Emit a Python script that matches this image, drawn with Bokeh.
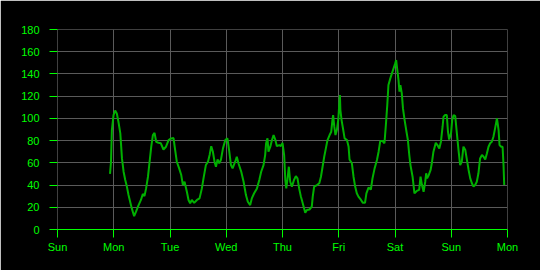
from bokeh.plotting import figure
from bokeh.models import FixedTicker, Range1d
from bokeh.embed import file_html
from bokeh.resources import INLINE

# hours since Sunday 00:00
hours = [22.4, 22.8, 23.2, 23.9, 24.6, 25.3, 26.0, 26.8, 27.5, 28.2, 28.9, 29.6, 30.3, 31.0,
         31.7, 32.7, 33.5, 34.6, 35.6, 36.4, 37.1, 37.8, 38.6, 39.3, 40.0, 40.7, 41.4, 42.1,
         43.1, 44.1, 45.2, 46.3, 47.4, 48.5, 49.5, 50.2, 50.9, 51.9, 52.8, 53.5, 54.2, 55.2,
         55.9, 56.6, 57.3, 58.3, 59.5, 60.6, 61.6, 62.3, 63.3, 64.2, 64.9, 65.6, 66.3, 67.0,
         67.6, 68.3, 69.0, 69.7, 70.6, 71.6, 72.5, 73.3, 74.0, 74.7, 75.8, 76.5, 77.2, 78.4,
         79.4, 80.4, 81.2, 82.2, 82.9, 83.9, 85.1, 86.1, 86.9, 87.9, 88.6, 89.0, 89.6, 90.0,
         90.8, 91.5, 92.2, 92.9, 93.6, 94.6, 95.3, 96.0, 96.7, 97.2, 97.6, 98.1, 98.7, 99.3,
         100.0, 100.9, 101.7, 102.4, 103.1, 103.8, 104.2, 105.0, 105.7, 106.4, 107.5, 108.5,
         108.9, 109.5, 110.7, 111.7, 112.4, 113.1, 113.8, 114.5, 115.2, 116.1, 116.8, 117.3,
         117.6, 118.1, 118.6, 119.2, 119.8, 120.2, 120.5, 120.7, 121.2, 121.8, 122.5, 123.5,
         124.2, 124.6, 125.6, 126.3, 127.0, 127.7, 128.4, 129.5, 130.3, 131.2, 131.8, 132.7,
         133.7, 134.4, 135.3, 136.3, 137.0, 137.7, 138.7, 139.5, 140.1, 140.7, 141.2, 142.0,
         142.7, 143.4, 144.1, 144.5, 144.9, 145.5, 145.9, 146.3, 146.9, 147.4, 148.1, 148.9,
         149.5, 150.1, 150.6, 151.5, 152.3, 153.3, 154.3, 154.9, 155.5, 156.2, 156.9, 157.3,
         157.7, 158.3, 159.2, 159.7, 160.4, 161.4, 162.1, 162.9, 163.6, 164.3, 164.7, 165.4,
         166.1, 166.6, 167.1, 167.9, 168.4, 169.0, 169.7, 170.4, 171.1, 171.8, 172.5, 173.2,
         174.0, 174.7, 175.4, 176.1, 176.8, 177.5, 178.2, 178.9, 179.6, 180.3, 181.1, 181.8,
         182.5, 183.2, 183.9, 184.6, 185.3, 186.0, 186.7, 187.5, 188.2, 188.6, 189.3, 189.9,
         190.3, 190.6]

values = [50, 60, 89.5, 103, 107, 104.5, 97, 86.5, 64, 52, 44.6, 38.6, 31, 25,
          19, 12, 16, 22, 26.6, 32, 30, 37, 47.5, 61, 74.5, 85, 87, 79,
          78, 77.6, 72, 74.5, 80.5, 82, 82.3, 71.5, 61, 55, 49, 40, 43, 34,
          26.6, 23.6, 26.6, 24, 26.6, 28, 37, 46, 58, 61, 67, 75, 70, 61,
          56.5, 63, 59.6, 62.5, 73, 80.5, 82, 70, 58, 55, 61, 65.5, 59.6, 52,
          43, 31, 25, 22, 28, 32.6, 37, 44.6, 52, 58, 67, 77.6, 82, 70,
          74.5, 80.5, 85, 81, 75, 76, 75, 78, 67, 44.6, 37, 44.6, 56.5, 43,
          38.6, 44.6, 48, 46, 37, 30, 27, 20.6, 15, 17.6, 18, 20.6,
          29.6, 38.6, 40, 41.6, 47.5, 56.5, 65.5, 73, 80.5, 85, 88, 98.5,
          103, 92.5, 85, 89.5, 99, 112, 121, 107.5, 98.5, 91, 82, 80.5,
          74.5, 63, 59.6, 47.5, 38.6, 32.6, 29.6, 26.6, 24, 24, 32.6, 37.7,
          36, 46, 55, 62.5, 70, 79.6, 79.6, 77.6, 94, 112, 130, 136,
          140.5, 145, 149.5, 152.5, 145, 134.5, 124, 130, 122.5, 109, 98.5, 88,
          80.5, 67, 58, 47.5, 32.6, 34.7, 35.6, 47.5, 40, 34, 43, 50.6,
          46, 48.5, 53.6, 59.6, 70, 78, 76, 73, 79, 92.5, 101.5, 103,
          103, 88, 81, 86.5, 98.5, 103, 102, 86.5, 71.5, 58, 61, 74.5,
          71.5, 62.5, 53.6, 46, 41.6, 38.6, 40, 43, 50.6, 64, 67, 65.5,
          63, 68.5, 74.5, 77.6, 79, 83.5, 91, 100, 89.5, 76, 74.5, 74.5,
          58, 40]

day_ticks = [0, 24, 48, 72, 96, 120, 144, 168, 192]
day_labels = ["Sun", "Mon", "Tue", "Wed", "Thu", "Fri", "Sat", "Sun", "Mon"]
y_ticks = [0, 20, 40, 60, 80, 100, 120, 140, 160, 180]

GREEN = "#00ff00"
LINE = "#00b000"
GRID = "#5a5a5a"

p = figure(width=540, height=270, output_backend="svg", toolbar_location=None,
           x_range=Range1d(0, 192), y_range=Range1d(0, 180),
           min_border_left=57, min_border_right=33, min_border_top=29, min_border_bottom=41)
p.background_fill_color = "black"
p.border_fill_color = "black"
p.outline_line_color = None

p.line(hours, values, line_color=LINE, line_width=2)

p.xaxis.ticker = FixedTicker(ticks=day_ticks)
p.xaxis.major_label_overrides = {t: l for t, l in zip(day_ticks, day_labels)}
p.yaxis.ticker = FixedTicker(ticks=y_ticks)

for ax in (p.xaxis[0], p.yaxis[0]):
    ax.major_label_text_color = GREEN
    ax.major_label_text_font = "Liberation Sans"
    ax.major_label_text_font_size = "11px"
    ax.major_tick_line_color = GREEN
    ax.major_tick_out = 8
    ax.major_tick_in = 0
    ax.minor_tick_line_color = None
    ax.axis_line_color = GREEN

p.yaxis.axis_line_color = None
p.yaxis.major_label_standoff = 10
p.xaxis.major_label_standoff = 3

p.xgrid.grid_line_color = GRID
p.ygrid.grid_line_color = GRID
p.xgrid.ticker = FixedTicker(ticks=day_ticks)
p.ygrid.ticker = FixedTicker(ticks=y_ticks)

open("out.html", "w").write(file_html(p, INLINE))
